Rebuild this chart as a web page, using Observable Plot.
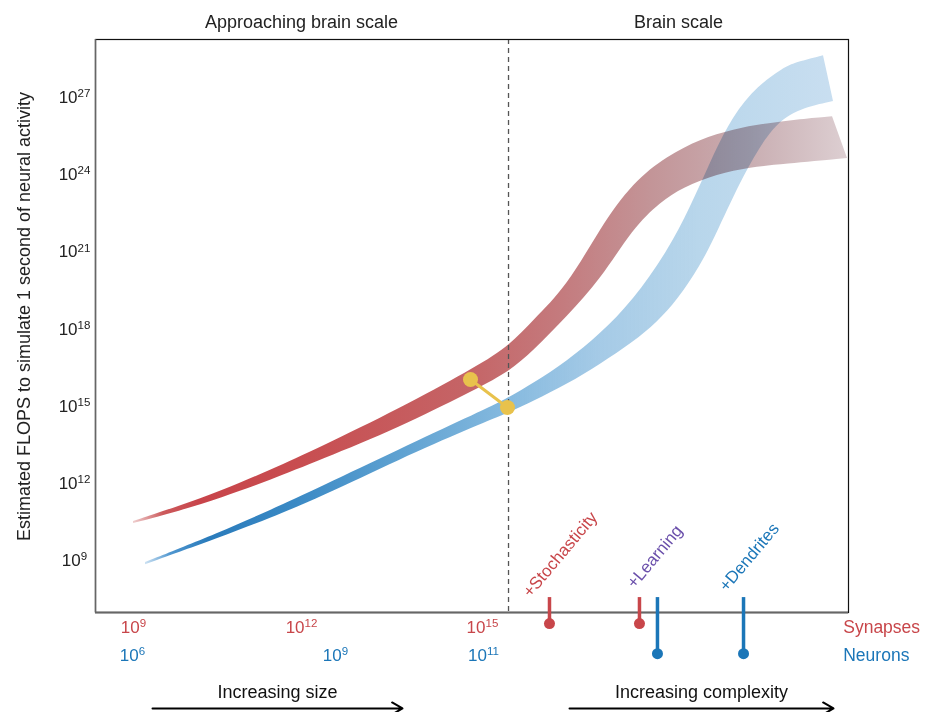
<!DOCTYPE html>
<html><head><meta charset="utf-8">
<script src="https://cdn.jsdelivr.net/npm/d3@7"></script>
<script src="https://cdn.jsdelivr.net/npm/@observablehq/plot@0.6"></script>
<style>body{margin:0;background:#fff}</style>
</head><body><div id="chart"></div>
<script>
// x: position along the size/complexity axis (0–100 across the frame)
// y: log10(FLOPS to simulate 1 s of neural activity)
const synapsesUpper = [[5.05,10.52],[11.29,11.12],[16.60,11.68],[23.24,12.50],[29.88,13.39],[40.50,14.91],[49.80,16.39],[54.71,17.24],[58.17,18.33],[62.68,19.65],[67.06,21.91],[71.45,23.70],[75.96,24.71],[80.35,25.37],[84.73,25.76],[89.24,25.99],[93.63,26.15],[97.88,26.26]];
const synapsesLower = [[5.05,10.44],[11.29,10.92],[16.60,11.41],[23.24,12.11],[29.88,12.89],[40.50,14.17],[49.80,15.53],[54.71,16.27],[58.17,17.13],[62.68,18.49],[67.06,19.89],[71.45,21.91],[75.03,22.92],[78.09,23.50],[82.60,24.01],[86.99,24.28],[91.37,24.40],[99.87,24.63]];
const neuronsUpper = [[6.64,8.92],[16.60,10.09],[23.24,10.94],[29.88,11.84],[40.50,13.32],[49.80,14.60],[54.71,15.28],[58.17,15.88],[62.68,16.74],[67.06,17.79],[71.45,19.11],[75.96,20.98],[79.02,22.72],[81.67,24.47],[83.93,25.87],[86.99,27.20],[91.37,28.17],[93.63,28.40],[96.68,28.63]];
const neuronsLower = [[6.64,8.84],[16.60,9.89],[23.24,10.63],[29.88,11.45],[40.50,12.93],[49.80,14.13],[54.71,14.70],[58.17,15.18],[62.68,15.84],[67.06,16.62],[71.45,17.48],[74.63,18.25],[77.29,19.11],[80.35,20.43],[82.60,21.75],[86.06,23.97],[90.04,25.95],[93.63,26.57],[98.01,26.85]];
const humanBrain = [[49.80,16.04],[54.71,14.95]];
const brainScaleAt = 54.85;
const yTicks = [9,12,15,18,21,24,27];
const synapseTicks = [{label:"10^9",at:5.05},{label:"10^12",at:27.36},{label:"10^15",at:51.39}];
const neuronTicks = [{label:"10^6",at:4.91},{label:"10^9",at:31.87},{label:"10^11",at:51.53}];
const synapseStems = [60.29, 72.24];
const neuronStems = [74.63, 86.06];
const modifiers = [{label:"+Stochasticity",at:57.76,kind:"synapse"},{label:"+Learning",at:71.58,kind:"both"},{label:"+Dendrites",at:83.83,kind:"neuron"}];
const regions = [{label:"Approaching brain scale",at:27.36},{label:"Brain scale",at:77.42}];
const directions = [{label:"Increasing size",from:7.57,to:40.77},{label:"Increasing complexity",from:62.95,to:98.01}];
const rowLabels = [{label:"Synapses",kind:"synapse"},{label:"Neurons",kind:"neuron"}];
const yLabel = "Estimated FLOPS to simulate 1 second of neural activity";

// styles and layout
const RED = "#c8464a", BLUE = "#1b76b8", PURPLE = "#6b50ab", GOLD = "#e8c24c";
const synapseShades = [[5,"#efd0d0",1],[9,"#cc5a5c",1],[14,"#c8444a",1],[27,"#c84d50",1],[50,"#c56567",1],[62,"#c47b7e",1],[74,"#c39598",1],[87,"#c9aeb2",1],[100,"#ddcfd2",1]];
const neuronShades = [[6.6,"#cfe3f3",1],[10,"#4f96cf",1],[15,"#2a7bbb",1],[27,"#3b8ac5",1],[40,"#5ea1d1",1],[55,"#86badf",1],[67,"#95c1e2",0.85],[80,"#a0c8e4",0.75],[98,"#b6d3eb",0.75]];
const kindColor = {synapse: RED, neuron: BLUE, both: PURPLE};
const labelBase = {synapse: 7.53, both: 7.88, neuron: 7.76};

const ribbon = (up, lo) => up.map((p, i) => ({xa: lo[i][0], ya: lo[i][1], xb: p[0], yb: p[1]}));
const synRows = ribbon(synapsesUpper, synapsesLower);
const neuRows = ribbon(neuronsUpper, neuronsLower);
const yDomain = [6.98, 29.26];
const rowY = {synapse: 6.40, neuron: 5.31};

const plot = Plot.plot({
  width: 933, height: 712,
  marginTop: 39, marginBottom: 100, marginLeft: 95, marginRight: 85,
  x: {domain: [0, 100], axis: null},
  y: {domain: yDomain, axis: null},
  style: {fontFamily: "'Liberation Sans', Arial, sans-serif", fontSize: "16px", color: "#222", background: "#fff", overflow: "visible"},
  marks: [
    Plot.area(synRows, {x1: "xa", y1: "ya", x2: "xb", y2: "yb", fill: "url(#synGrad)", curve: "basis"}),
    Plot.area(neuRows, {x1: "xa", y1: "ya", x2: "xb", y2: "yb", fill: "url(#neuGrad)", curve: "basis", mixBlendMode: "multiply"}),
    Plot.ruleX([brainScaleAt], {stroke: "#555", strokeWidth: 1.3, strokeDasharray: "5,4"}),
    Plot.line(humanBrain, {x: d => d[0], y: d => d[1], stroke: GOLD, strokeWidth: 3}),
    Plot.dot(humanBrain, {x: d => d[0], y: d => d[1], r: 7.5, fill: GOLD}),
    Plot.frame({stroke: "#111", strokeWidth: 1.2}),
    Plot.ruleX([0], {stroke: "#666", strokeWidth: 1.5}),
    Plot.ruleY([yDomain[0]], {stroke: "#666", strokeWidth: 1.8}),
    Plot.axisY({ticks: yTicks, tickFormat: d => "10^" + d, tickSize: 0, tickPadding: 21, textAnchor: "middle", fontSize: 17, fill: "#222"}),
    Plot.text([yLabel], {x: -9.43, y: 18.49, rotate: -90, fontSize: 18, fill: "#222"}),
    Plot.text(regions, {x: "at", y: 29.92, text: "label", fontSize: 18, fill: "#222"}),
    Plot.text(synapseTicks, {x: "at", y: rowY.synapse, text: "label", fontSize: 17, fill: RED}),
    Plot.text(neuronTicks, {x: "at", y: rowY.neuron, text: "label", fontSize: 17, fill: BLUE}),
    Plot.text(rowLabels, {x: 99.3, y: d => rowY[d.kind], text: "label", textAnchor: "start", fontSize: 17.5, fill: d => kindColor[d.kind]}),
    Plot.ruleX(synapseStems, {x: d => d, y1: 7.56, y2: 6.55, stroke: RED, strokeWidth: 3.5}),
    Plot.ruleX(neuronStems, {x: d => d, y1: 7.56, y2: 5.38, stroke: BLUE, strokeWidth: 3.5}),
    Plot.dot(synapseStems, {x: d => d, y: 6.55, r: 5.5, fill: RED}),
    Plot.dot(neuronStems, {x: d => d, y: 5.38, r: 5.5, fill: BLUE}),
    Plot.text(modifiers, {x: "at", y: d => labelBase[d.kind], text: "label", rotate: -50, textAnchor: "start", lineAnchor: "bottom", fontSize: 17, fill: d => kindColor[d.kind]}),
    Plot.text(directions, {x: d => (d.from + d.to) / 2, y: 3.87, text: "label", fontSize: 18, fill: "#111"}),
    Plot.arrow(directions, {x1: "from", x2: "to", y1: 3.25, y2: 3.25, stroke: "#000", strokeWidth: 2, headLength: 9})
  ]
});

// gradients along x
const xs = plot.scale("x");
const svg = d3.select(plot.tagName === "svg" ? plot : plot.querySelector("svg"));
const defs = svg.insert("defs", ":first-child");
function grad(id, shades) {
  const x1 = xs.apply(shades[0][0]), x2 = xs.apply(shades[shades.length - 1][0]);
  const g = defs.append("linearGradient").attr("id", id).attr("gradientUnits", "userSpaceOnUse")
    .attr("x1", x1).attr("x2", x2).attr("y1", 0).attr("y2", 0);
  shades.forEach(([v, c, o]) => g.append("stop").attr("offset", (xs.apply(v) - x1) / (x2 - x1)).attr("stop-color", c).attr("stop-opacity", o));
}
grad("synGrad", synapseShades);
grad("neuGrad", neuronShades);

// superscript exponents
svg.selectAll("text").each(function () {
  const t = this.textContent;
  if (t.includes("^") && this.children.length === 0) {
    const [b, e] = t.split("^");
    this.textContent = b;
    d3.select(this).append("tspan").attr("dy", "-0.5em").attr("font-size", "0.68em").text(e);
  }
});

document.getElementById("chart").appendChild(plot);
</script></body></html>
